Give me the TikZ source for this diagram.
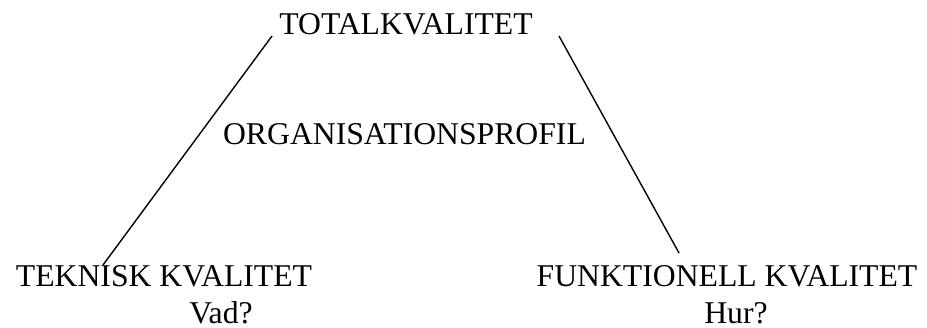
\documentclass[tikz,border=0pt]{standalone}
\usepackage{fontspec}
\setmainfont{Liberation Serif}
\begin{document}
\begin{tikzpicture}[x=1pt,y=-1pt,
  lbl/.style={inner sep=0pt,anchor=base,font=\fontsize{31.7}{38}\selectfont},
  edge/.style={line width=1.4pt}]
  \useasboundingbox (0,0) rectangle (927,328);
  % labels
  \node[lbl] (tot) at (406,35) {TOTALKVALITET};
  \node[lbl] (org) at (404.5,145) {ORGANISATIONSPROFIL};
  \node[lbl] (tek) at (164,287) {TEKNISK KVALITET};
  \node[lbl] (vad) at (221,324) {Vad?};
  \node[lbl] (fun) at (727,287) {FUNKTIONELL KVALITET};
  \node[lbl] (hur) at (736,324) {Hur?};
  % line ends just off the text
  \coordinate (tl) at (272,36);
  \coordinate (bl) at (103,265);
  \coordinate (tr) at (559,36);
  \coordinate (br) at (679,253);
  \draw[edge] (tl) -- (bl);
  \draw[edge] (tr) -- (br);
\end{tikzpicture}
\end{document}
